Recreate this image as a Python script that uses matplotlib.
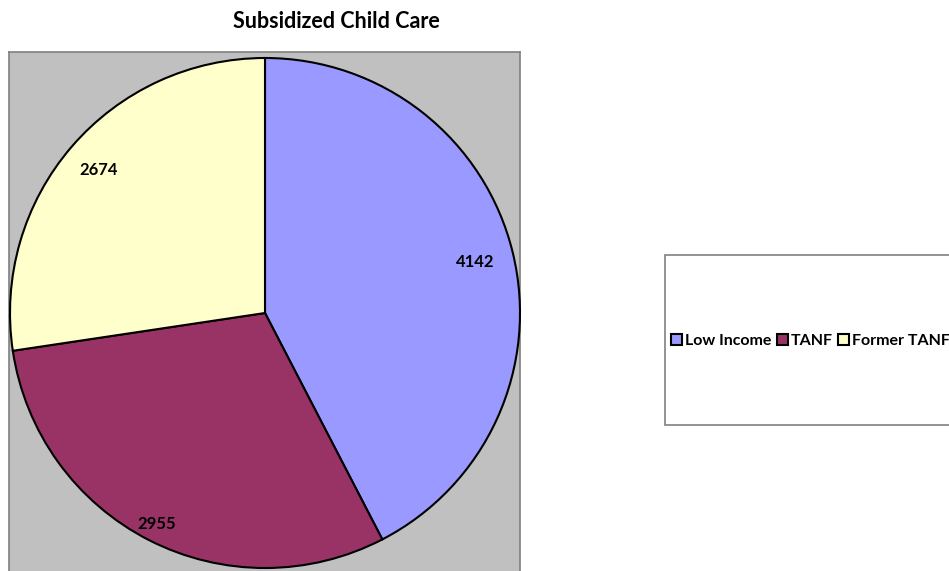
import numpy as np
import matplotlib.pyplot as plt
from matplotlib.patches import Patch, Rectangle

categories = ["Low Income", "TANF", "Former TANF"]
values = [4142, 2955, 2674]
colors = ["#9999FF", "#993366", "#FFFFCC"]
label_dist = [0.85, 0.93, 0.86]

W, H = 949, 571
fig = plt.figure(figsize=(W / 100, H / 100), dpi=100)
plt.rcParams["font.family"] = ["Lato", "DejaVu Sans"]

# gray plot area
bg = fig.add_axes([9 / W, 0, 511 / W, (H - 52) / H])
bg.set_facecolor("#C0C0C0")
bg.set_xticks([])
bg.set_yticks([])
for s in ["left", "right", "top"]:
    bg.spines[s].set_color("#808080")
    bg.spines[s].set_linewidth(1.2)
bg.spines["bottom"].set_visible(False)

# pie, centre (265, 313) px, radius 255 px
R = 255
ax = fig.add_axes([(265 - R) / W, (H - 313 - R) / H, 2 * R / W, 2 * R / H])
wedges, _ = ax.pie(values, colors=colors, startangle=90, counterclock=False,
                   wedgeprops=dict(edgecolor="black", linewidth=1.5))
for w in wedges:
    w.set_clip_on(False)
ax.set_xlim(-1, 1)
ax.set_ylim(-1, 1)
ax.set_aspect("equal")
ax.axis("off")

for w, v, d in zip(wedges, values, label_dist):
    ang = np.deg2rad((w.theta1 + w.theta2) / 2)
    ax.text(d * np.cos(ang), d * np.sin(ang), str(v), ha="center", va="center",
            fontsize=12, fontweight="bold")

fig.text(336 / W, 1 - 22 / H, "Subsidized Child Care", ha="center", va="center",
         fontsize=15.5, fontweight="bold")

# legend box (runs off the right edge, as in the original)
fig.patches.append(Rectangle((665 / W, 1 - 425 / H), 300 / W, 170 / H,
                             transform=fig.transFigure, facecolor="white",
                             edgecolor="#808080", linewidth=1.2))
handles = [Patch(facecolor=c, edgecolor="black", linewidth=1.5) for c in colors]
fig.legend(handles, categories, loc="center left",
           bbox_to_anchor=(671 / W, 1 - 341 / H), ncol=3, frameon=False,
           handlelength=0.7, handleheight=0.7, handletextpad=0.2,
           columnspacing=0.3, borderpad=0, borderaxespad=0,
           prop=dict(weight="bold", size=11.5))

fig.savefig("out.png", dpi=100)
